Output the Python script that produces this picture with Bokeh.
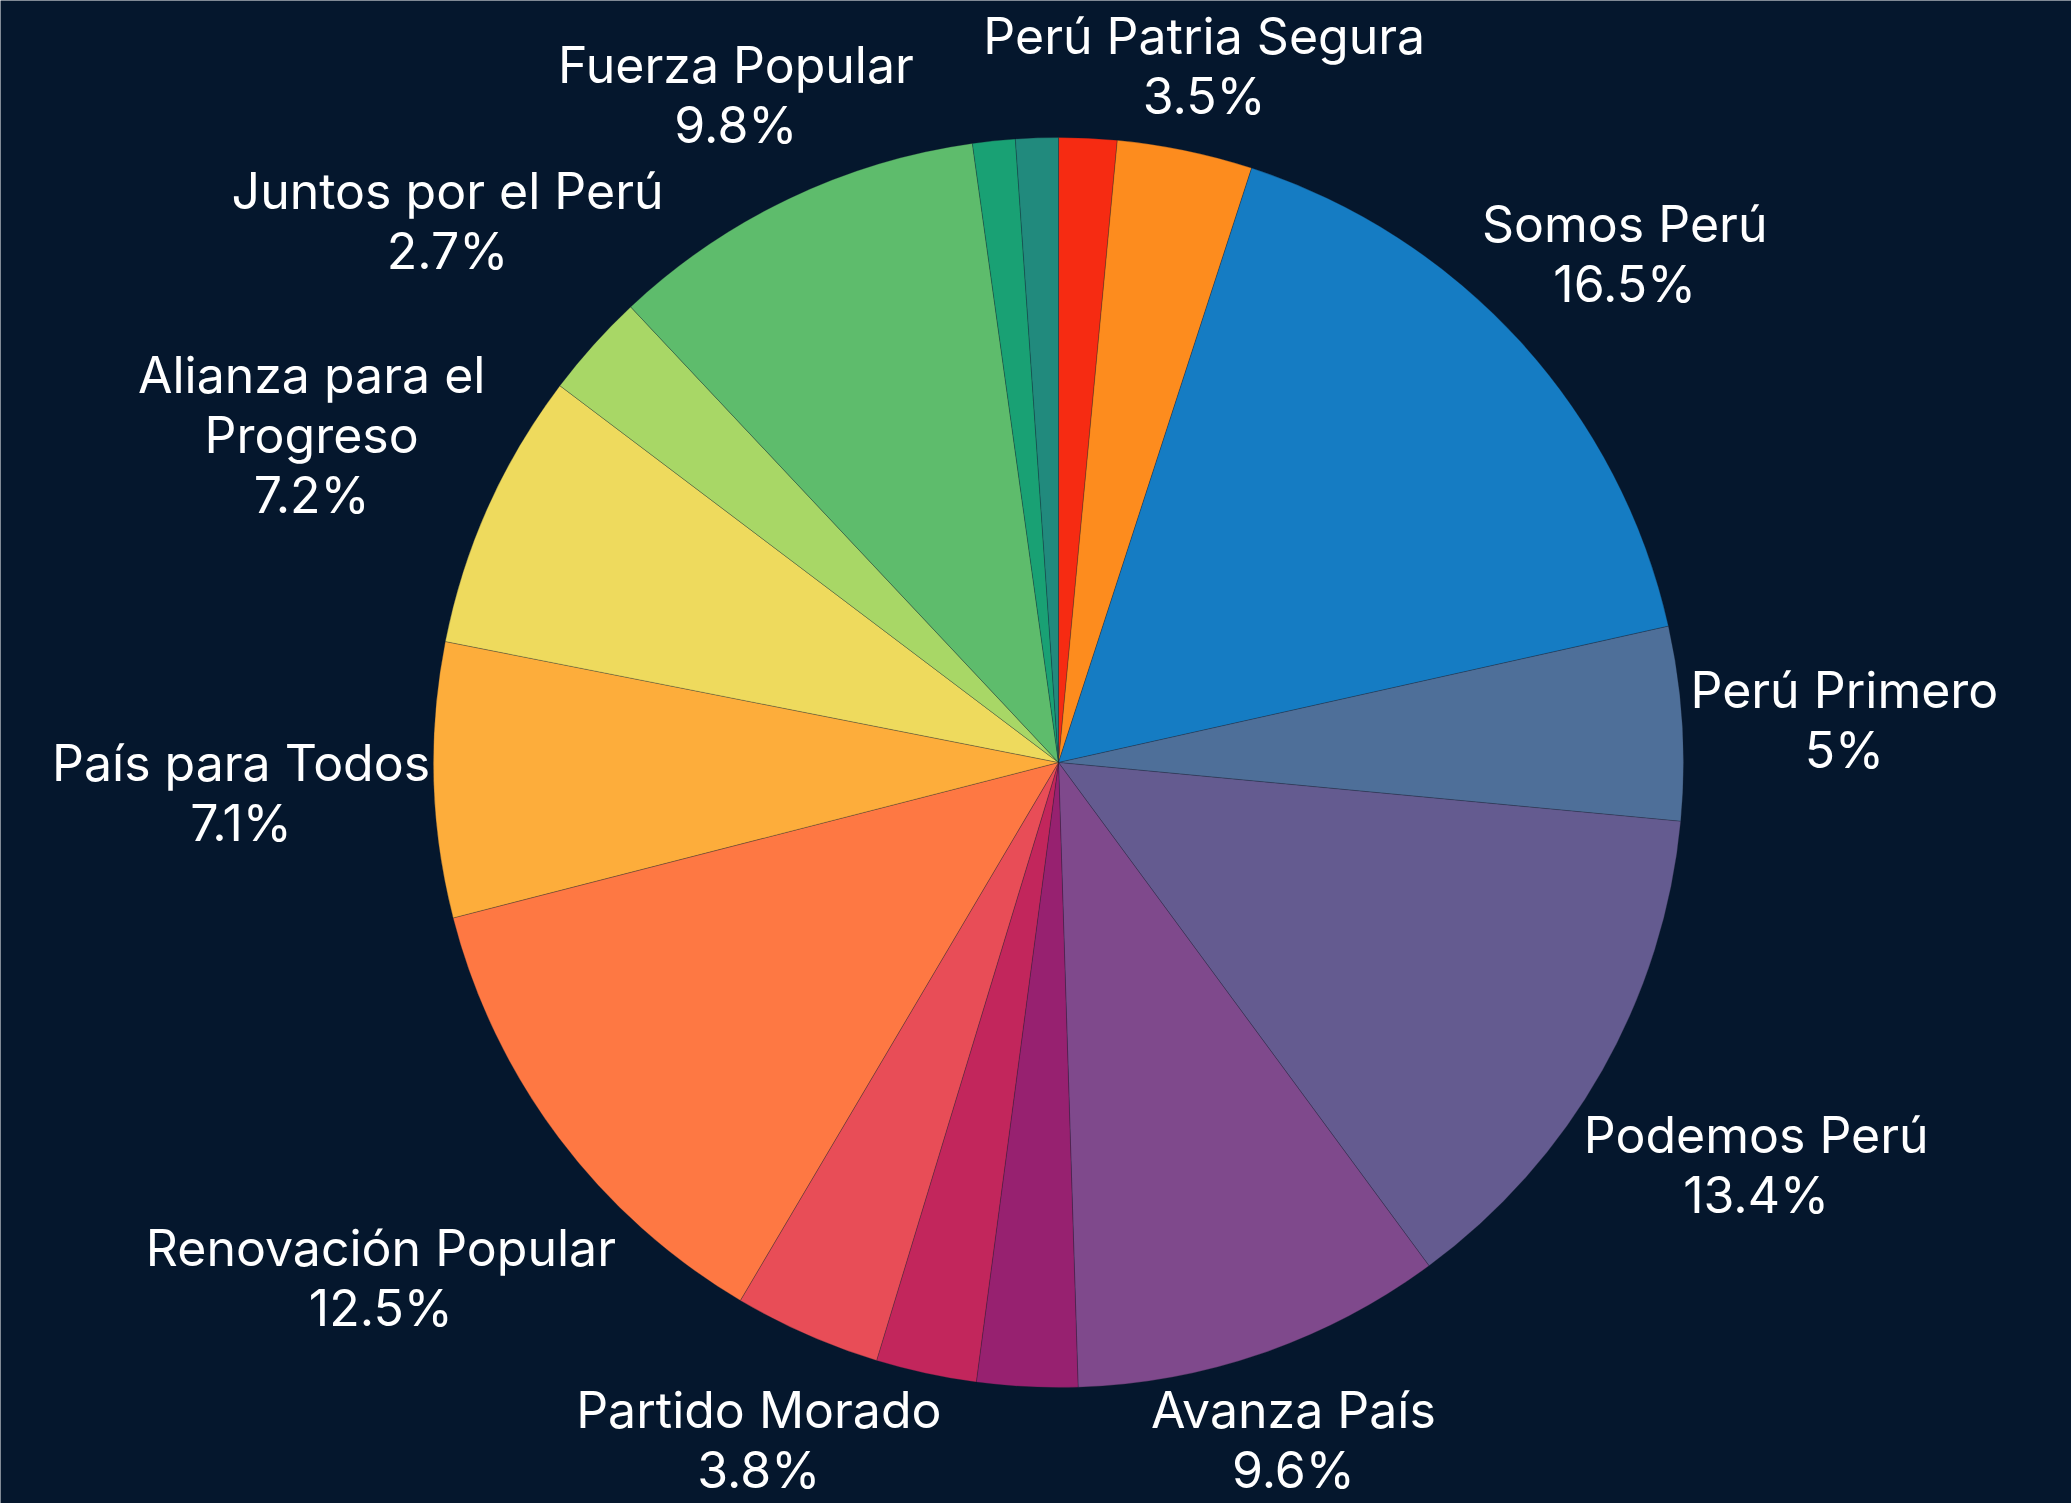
import math
from bokeh.plotting import figure
from bokeh.models import ColumnDataSource, Range1d
from bokeh.core.properties import value
from bokeh.embed import file_html
from bokeh.resources import INLINE

# ---- data (clockwise from 12 o'clock) ----
parties = ["Otro A", "Perú Patria Segura", "Somos Perú", "Perú Primero", "Podemos Perú",
           "Avanza País", "Otro B", "Otro C", "Partido Morado", "Renovación Popular",
           "País para Todos", "Alianza para el Progreso", "Juntos por el Perú",
           "Fuerza Popular", "Otro D", "Otro E"]
shares = [1.5, 3.5, 16.5, 5.0, 13.4, 9.6, 2.6, 2.6, 3.8, 12.5, 7.1, 7.2, 2.7, 9.8, 1.1, 1.1]
colors = ["#F62B12", "#FD8C1E", "#157CC3", "#4E6F99", "#645B90", "#7F498C", "#972170",
          "#C2265C", "#E84D57", "#FE7843", "#FDAD3B", "#EEDA5D", "#A8D766", "#5EBC6C",
          "#19A174", "#218A7D"]
label_min = 2.7

# ---- layout ----
W, H = 2071, 1503
BG = "#05172D"
cx, cy, R = 1058, H - 762, 625
FS = 50          # rendered font size (px)
EM = 49.6        # em size used for label box estimate
LH = 1.0
LINE = 60        # line spacing (px) for box estimate
DROP = 7         # small downward nudge of label blocks (px)

# approximate glyph advance widths (em) of a geometric sans
NARROW = set("il.íj ")
CW = {"r": 0.39, "t": 0.39, "f": 0.36, "m": 0.99, "w": 0.85, "s": 0.49, "z": 0.51,
      "%": 0.80, "M": 0.85, "W": 0.95}


def cw(ch):
    if ch in CW:
        return CW[ch]
    if ch in NARROW:
        return 0.27
    if ch.isupper():
        return 0.67
    return 0.60


def text_width(s):
    return sum(cw(c) for c in s) * EM


def wrap(s, n=20):
    words, lines, cur = s.split(), [], ""
    for w in words:
        if cur and len(cur) + 1 + len(w) > n:
            lines.append(cur)
            cur = w
        else:
            cur = (cur + " " + w) if cur else w
    lines.append(cur)
    return lines


total = sum(shares)
start, end, lx, ly, lab = [], [], [], [], []
cum = 0.0
for name, v in zip(parties, shares):
    a0 = cum / total * 2 * math.pi
    cum += v
    a1 = cum / total * 2 * math.pi
    start.append(math.pi / 2 - a1)
    end.append(math.pi / 2 - a0)
    if v >= label_min:
        mid = (a0 + a1) / 2
        ux, uy = math.sin(mid), math.cos(mid)
        lines = wrap(name) + [f"{v:g}%"]
        w = max(text_width(l) for l in lines)
        h = (len(lines) - 1) * LINE + 0.75 * EM
        d = R + abs(ux) * w / 2 + abs(uy) * h / 2
        y = cy + d * uy - DROP
        half = len(lines) * LINE / 2 + 4
        y = min(max(y, half), H - half)
        lx.append(cx + d * ux)
        ly.append(y)
        lab.append("\n".join(lines))

src = ColumnDataSource(dict(start=start, end=end, color=colors))
lsrc = ColumnDataSource(dict(x=lx, y=ly, text=lab))

p = figure(width=W, height=H, x_range=Range1d(0, W), y_range=Range1d(0, H),
           output_backend="svg", toolbar_location=None, min_border=0,
           background_fill_color=BG, border_fill_color=BG, outline_line_color=None)
p.axis.visible = False
p.grid.visible = False

p.wedge(x=cx, y=cy, radius=R, start_angle="start", end_angle="end",
        fill_color="color", line_color="#1a2230", line_alpha=0.35, line_width=0.8,
        source=src)
p.text(x="x", y="y", text="text", source=lsrc, text_align="center",
       text_baseline="middle", text_font=value("Inter"), text_font_size=f"{FS}px",
       text_color="white", text_line_height=LH)

open("out.html", "w").write(file_html(p, INLINE))
